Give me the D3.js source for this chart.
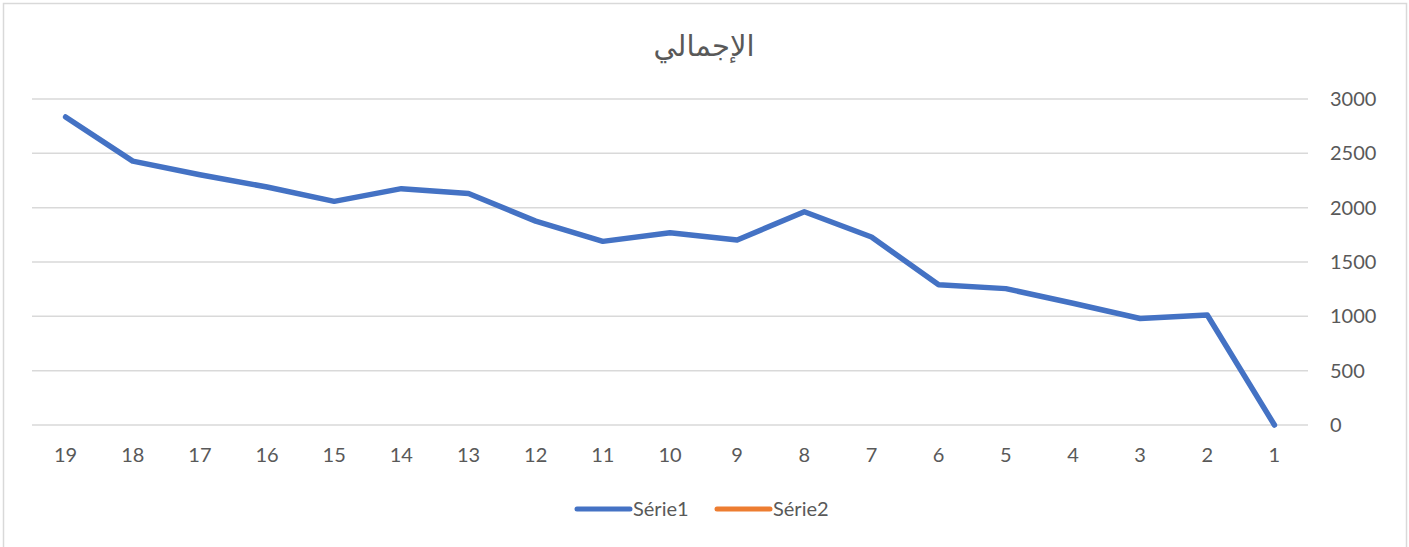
<!DOCTYPE html>
<html>
<head>
<meta charset="utf-8">
<script src="https://cdn.jsdelivr.net/npm/d3@7"></script>
<style>
  body { margin: 0; background: #fff; }
  text { font-family: Lato, "Liberation Sans", sans-serif; fill: #595959; }
</style>
</head>
<body>
<script>
// Width and height
var w = 1409;
var h = 547;

var title = "الإجمالي";
var categories = ["19","18","17","16","15","14","13","12","11","10","9","8","7","6","5","4","3","2","1"];
var serie1 = [2835, 2428, 2303, 2190, 2058, 2175, 2130, 1876, 1690, 1770, 1703, 1962, 1730, 1290, 1255, 1120, 980, 1012, 0];
var serie2 = [];
var yTicks = [0, 500, 1000, 1500, 2000, 2500, 3000];
var seriesNames = ["Série1", "Série2"];
var seriesColors = ["#4472C4", "#ED7D31"];

var svg = d3.select("body")
    .append("svg")
    .attr("width", w)
    .attr("height", h);

// chart frame
svg.append("rect")
    .attr("x", 3.5)
    .attr("y", 3.5)
    .attr("width", 1403)
    .attr("height", 560)
    .attr("fill", "#fff")
    .attr("stroke", "#d9d9d9")
    .attr("stroke-width", 1.5);

var x = d3.scaleBand()
    .domain(categories)
    .range([32, 1308]);

var y = d3.scaleLinear()
    .domain([0, 3000])
    .range([425, 99]);

// gridlines
svg.selectAll(".grid")
    .data(yTicks)
    .enter()
    .append("line")
    .attr("class", "grid")
    .attr("x1", 32)
    .attr("x2", 1308)
    .attr("y1", function(d){ return y(d); })
    .attr("y2", function(d){ return y(d); })
    .attr("stroke", "#d9d9d9")
    .attr("stroke-width", 1.5);

// y axis on the right, no line
var yAxis = svg.append("g")
    .attr("transform", "translate(1308,0)")
    .call(d3.axisRight(y).tickValues(yTicks).tickFormat(d3.format("d")).tickSize(0).tickPadding(22));
yAxis.select(".domain").remove();
yAxis.selectAll("text")
    .attr("font-size", "20px")
    .style("font-family", "Lato, 'Liberation Sans', sans-serif")
    .attr("fill", "#595959");

// x axis
var xAxis = svg.append("g")
    .attr("transform", "translate(0,425)")
    .call(d3.axisBottom(x).tickSize(0).tickPadding(23));
xAxis.select(".domain").remove();
xAxis.selectAll("text")
    .attr("font-size", "20px")
    .style("font-family", "Lato, 'Liberation Sans', sans-serif")
    .attr("fill", "#595959");

var line = d3.line()
    .x(function(d, i){ return x(categories[i]) + x.bandwidth() / 2; })
    .y(function(d){ return y(d); });

svg.append("path")
    .datum(serie1)
    .attr("fill", "none")
    .attr("stroke", seriesColors[0])
    .attr("stroke-width", 5.5)
    .attr("stroke-linejoin", "round")
    .attr("stroke-linecap", "round")
    .attr("d", line);

if (serie2.length) {
  svg.append("path")
      .datum(serie2)
      .attr("fill", "none")
      .attr("stroke", seriesColors[1])
      .attr("stroke-width", 5.5)
      .attr("d", line);
}

// title
svg.append("text")
    .attr("x", 704)
    .attr("y", 56)
    .attr("text-anchor", "middle")
    .attr("font-size", "29px")
    .style("font-family", "'DejaVu Sans', sans-serif")
    .attr("fill", "#595959")
    .text(title);

// legend
var legendX = [577, 717];
var leg = svg.selectAll(".legend")
    .data(seriesNames)
    .enter()
    .append("g")
    .attr("class", "legend")
    .attr("transform", function(d, i){ return "translate(" + legendX[i] + ",509)"; });

leg.append("line")
    .attr("x1", 0)
    .attr("x2", 53)
    .attr("stroke", function(d, i){ return seriesColors[i]; })
    .attr("stroke-width", 5)
    .attr("stroke-linecap", "round");

leg.append("text")
    .attr("x", 56)
    .attr("dy", "0.35em")
    .attr("font-size", "20px")
    .text(function(d){ return d; });
</script>
</body>
</html>
